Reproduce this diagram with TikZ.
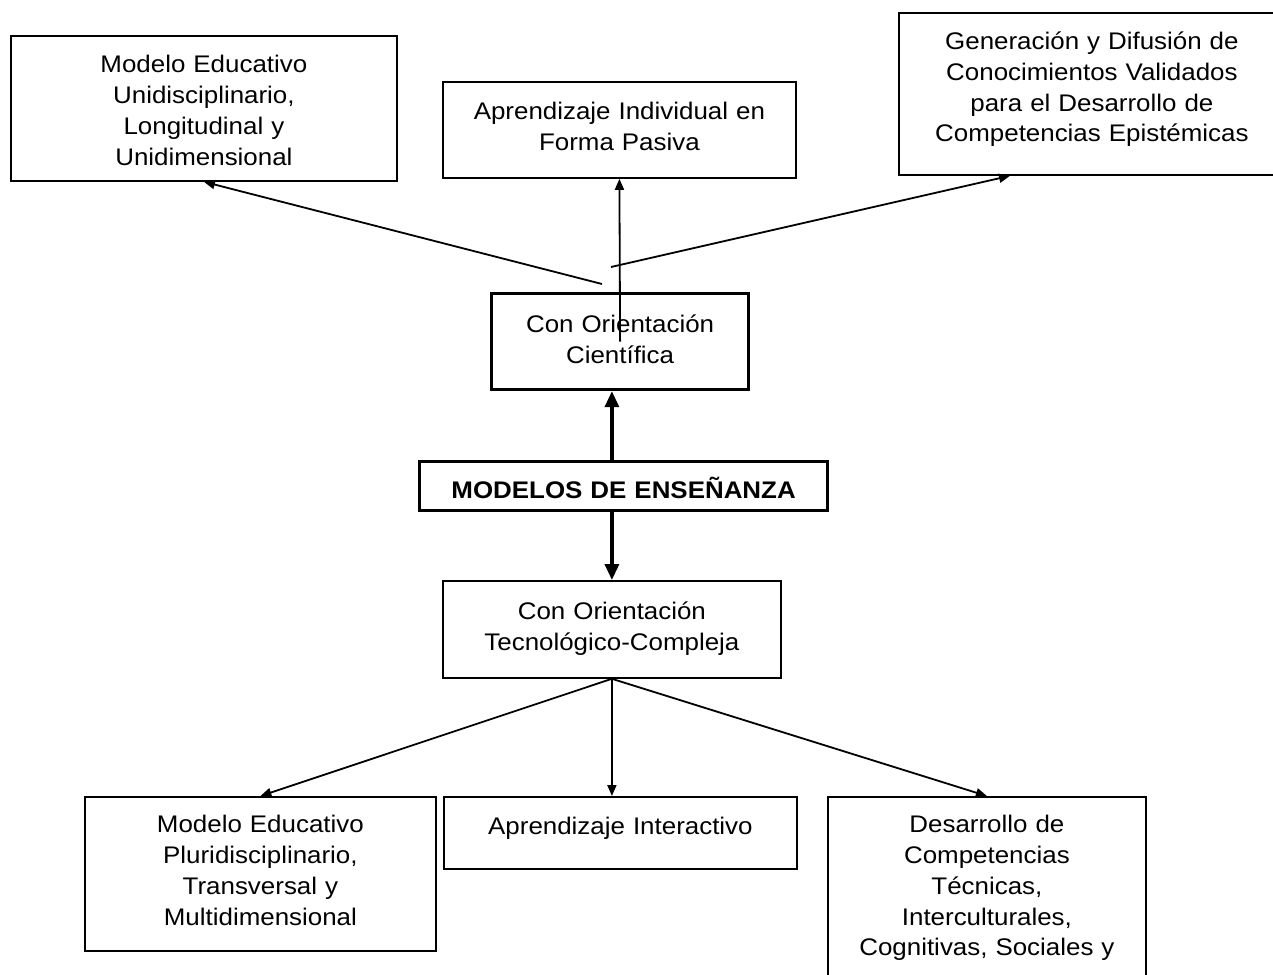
\documentclass[tikz,border=0pt]{standalone}
\usepackage{fontspec}
\setmainfont{Liberation Sans}[FakeStretch=1.08, WordSpace=1.3]
\usetikzlibrary{arrows.meta}

\tikzset{
  box/.style={draw, line width=1.8pt, anchor=north west, align=center,
    inner xsep=0pt, inner ysep=0pt, font={\fontsize{24}{30.7}\selectfont}},
  bigbox/.style={box, line width=3.2pt},
  arr/.style={draw, line width=1.8pt, -{Triangle[length=11pt,width=9pt]}},
  bigarr/.style={draw, line width=3.4pt, -{Triangle[length=16pt,width=14pt]}}
}

\begin{document}
\begin{tikzpicture}[x=1pt, y=-1pt]
 \useasboundingbox (0,0) rectangle (1273,974);

 %top
 \node[box, text width=386pt, text height=37pt, text depth=108pt] (moduni) at (10,35)
   {Modelo Educativo\\Unidisciplinario,\\Longitudinal y\\Unidimensional};
 \node[box, text width=353pt, text height=38pt, text depth=58pt] (aprind) at (442,81)
   {Aprendizaje Individual en\\Forma Pasiva};
 \node[box, text width=386pt, text height=37pt, text depth=125pt] (gendif) at (898,12)
   {Generación y Difusión de\\Conocimientos Validados\\para el Desarrollo de\\Competencias Epistémicas};

 %middle
 \node[bigbox, text width=257pt, text height=39pt, text depth=57pt] (cien) at (490,292)
   {Con Orientación\\Científica};
 \node[bigbox, text width=408pt, text height=37pt, text depth=12pt,
   font={\fontsize{24}{30.7}\selectfont\bfseries}] (modelos) at (418,460)
   {MODELOS DE ENSEÑANZA};
 \node[box, text width=338pt, text height=39pt, text depth=58pt] (tec) at (442,580)
   {Con Orientación\\Tecnológico-Compleja};

 %bottom
 \node[box, text width=351pt, text height=36pt, text depth=118pt] (modpluri) at (84,796)
   {Modelo Educativo\\Pluridisciplinario,\\Transversal y\\Multidimensional};
 \node[box, text width=353pt, text height=38pt, text depth=34pt] (aprint) at (443,796)
   {Aprendizaje Interactivo};
 \node[box, text width=318pt, text height=36pt, text depth=200pt] (descomp) at (827,796)
   {Desarrollo de\\Competencias\\Técnicas,\\Interculturales,\\Cognitivas, Sociales y};

 %lines up
 \coordinate (cl) at (602,284);
 \coordinate (cr) at (611,267);
 \path[arr] (cl) -- (moduni.south);
 \path[arr] (cien.center) -- (aprind.south);
 \path[arr] (cr) -- ([xshift=112pt]gendif.south west);

 \path[bigarr] (tec.north |- modelos.north) -- (tec.north |- cien.south);
 \path[bigarr] (tec.north |- modelos.south) -- (tec.north);

 %lines down
 \path[arr] (tec.south) -- (modpluri.north);
 \path[arr] (tec.south) -- (tec.south |- aprint.north);
 \path[arr] (tec.south) -- (descomp.north);
\end{tikzpicture}
\end{document}
